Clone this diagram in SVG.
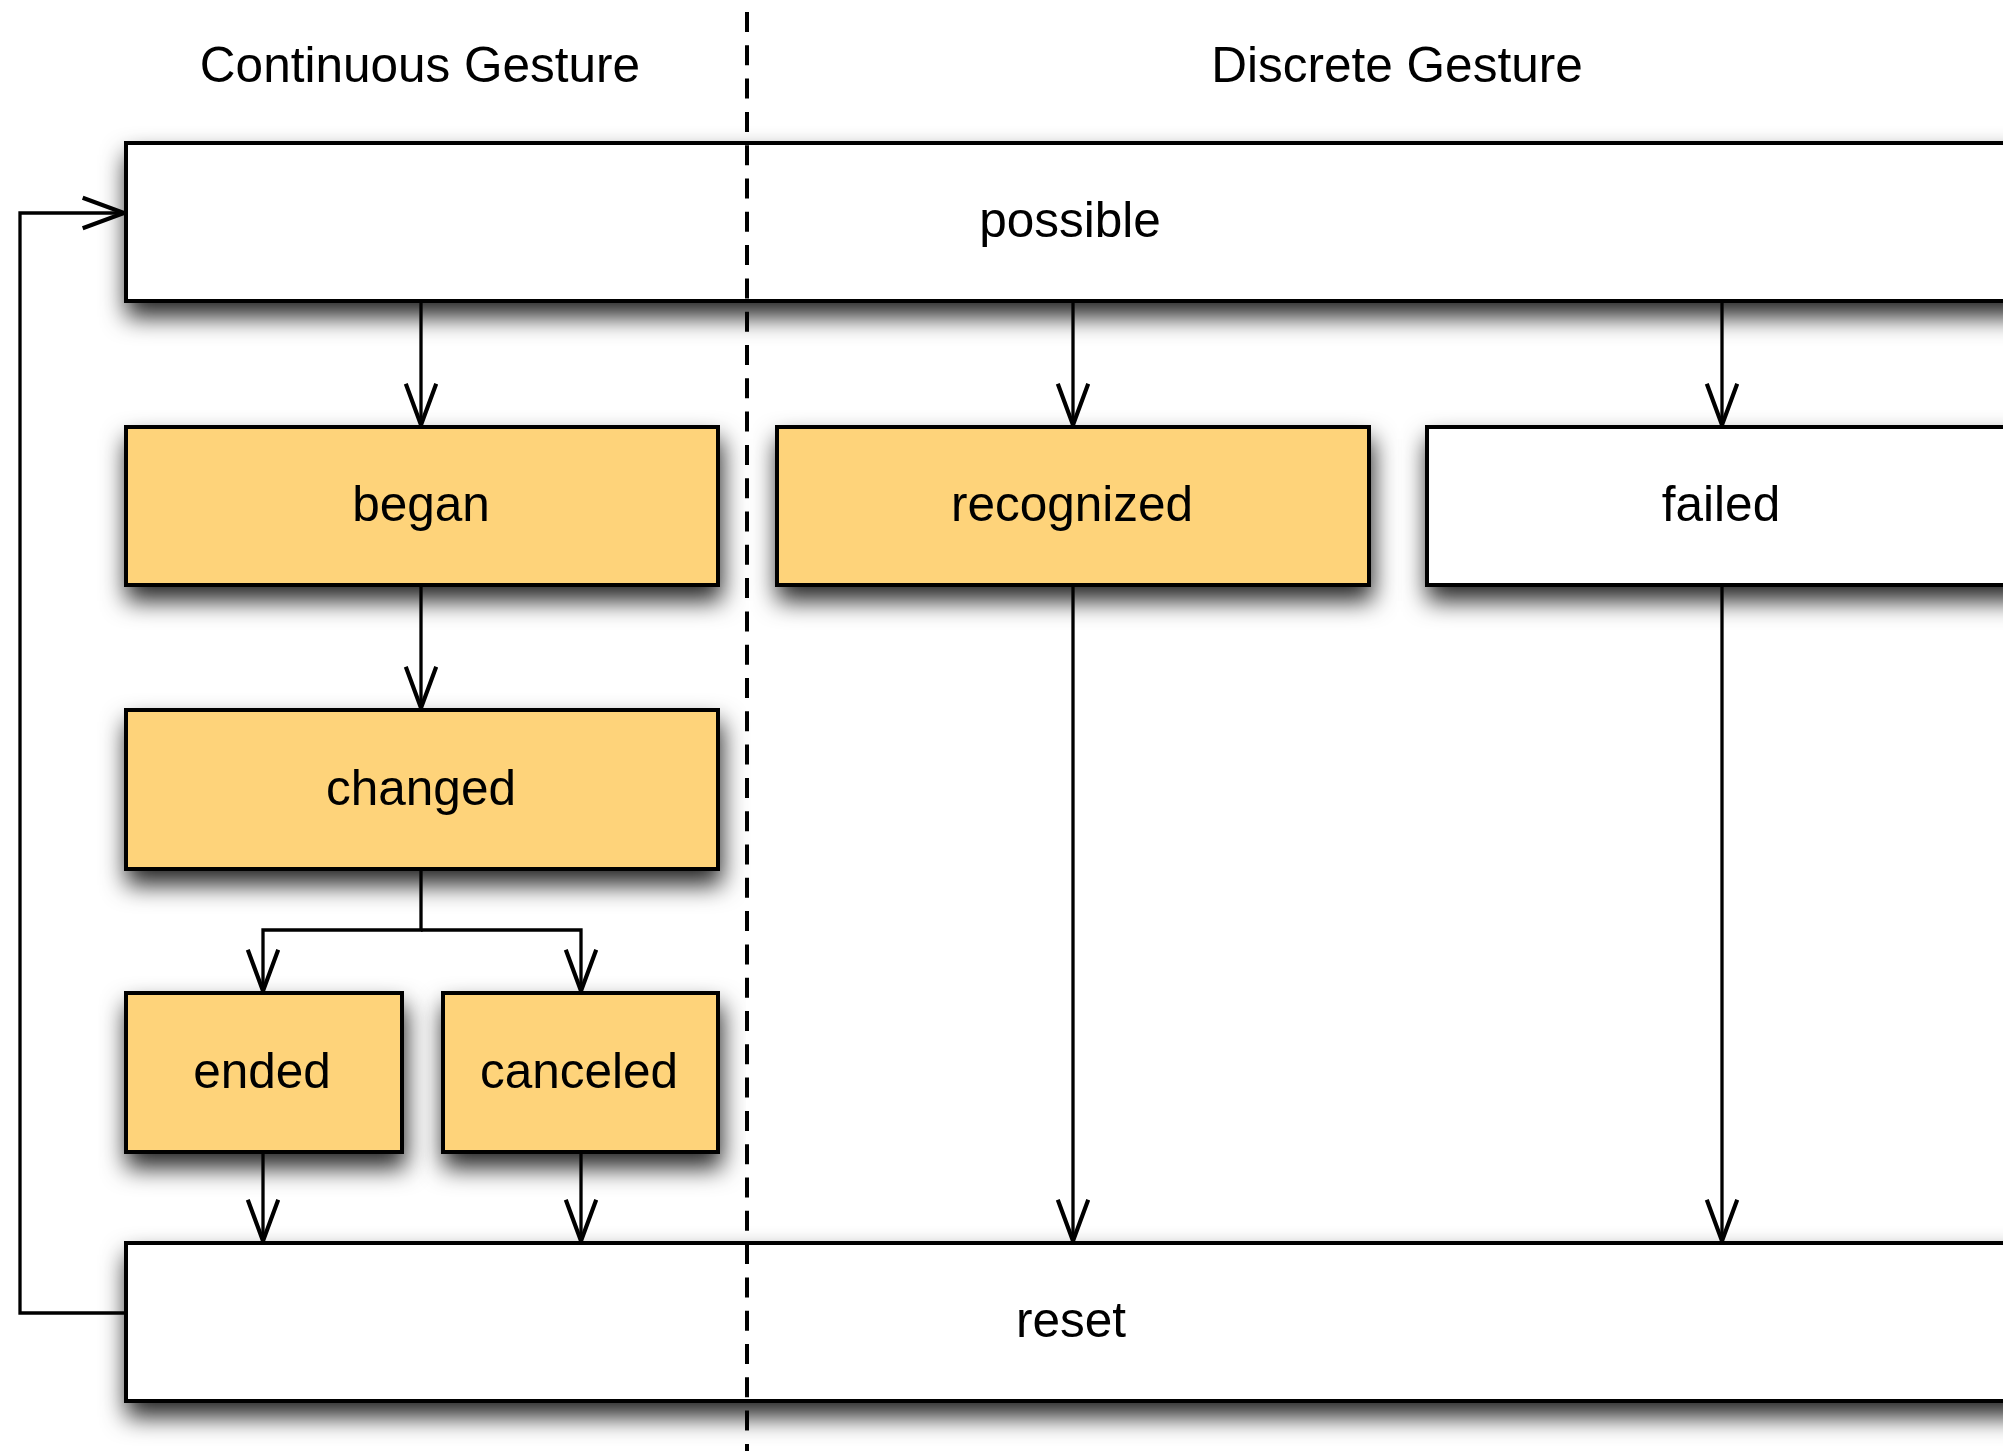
<svg xmlns="http://www.w3.org/2000/svg" width="2003" height="1451" viewBox="0 0 2003 1451">
<style>
.box{stroke:#000;stroke-width:4;filter:url(#sh)}
.y{fill:#FED37A}
.w{fill:#fff}
.t{font-family:"Liberation Sans",Arial,sans-serif;font-size:49.5px;fill:#000;text-anchor:middle}
.c{fill:none;stroke:#000;stroke-width:3.3;marker-end:url(#ah)}
</style>
<defs>
<filter id="sh" x="-10%" y="-40%" width="120%" height="200%">
<feDropShadow dx="2" dy="14" stdDeviation="12" flood-color="#000" flood-opacity="0.85"/>
</filter>
<marker id="ah" markerUnits="userSpaceOnUse" markerWidth="50" markerHeight="40" viewBox="-42 -18 46 36" refX="0" refY="0" orient="auto">
<path d="M-38,-14 L0,0 L-38,14" fill="none" stroke="#000" stroke-width="3.8"/>
</marker>
</defs>
<rect width="2003" height="1451" fill="#fff"/>
<g id="titles">
<text class="t" x="420" y="82">Continuous Gesture</text>
<text class="t" x="1397" y="82">Discrete Gesture</text>
</g>
<g id="possible"><rect class="box w" x="126" y="143" width="1900" height="158"/><text class="t" x="1070" y="237">possible</text></g>
<g id="began"><rect class="box y" x="126" y="427" width="592" height="158"/><text class="t" x="421" y="521">began</text></g>
<g id="recognized"><rect class="box y" x="777" y="427" width="592" height="158"/><text class="t" x="1072" y="521">recognized</text></g>
<g id="failed"><rect class="box w" x="1427" y="427" width="600" height="158"/><text class="t" x="1721" y="521">failed</text></g>
<g id="changed"><rect class="box y" x="126" y="710" width="592" height="159"/><text class="t" x="421" y="805">changed</text></g>
<g id="ended"><rect class="box y" x="126" y="993" width="276" height="159"/><text class="t" x="262" y="1088">ended</text></g>
<g id="canceled"><rect class="box y" x="443" y="993" width="275" height="159"/><text class="t" x="579" y="1088">canceled</text></g>
<g id="reset"><rect class="box w" x="126" y="1243" width="1900" height="158"/><text class="t" x="1071" y="1337">reset</text></g>
<g id="connectors">
<path class="c" d="M421,303 V425"/>
<path class="c" d="M1073,303 V425"/>
<path class="c" d="M1722,303 V425"/>
<path class="c" d="M421,587 V708"/>
<path class="c" d="M421,871 V930 H263 V991"/>
<path class="c" d="M421,930 H581 V991"/>
<path class="c" d="M263,1154 V1241"/>
<path class="c" d="M581,1154 V1241"/>
<path class="c" d="M1073,587 V1241"/>
<path class="c" d="M1722,587 V1241"/>
<path class="c" d="M124,1313 H20 V213 H124"/>
</g>
<g id="divider">
<line x1="747" y1="12" x2="747" y2="1451" stroke="#000" stroke-width="4" stroke-dasharray="20 13.3" stroke-linecap="butt"/>
</g>
</svg>
